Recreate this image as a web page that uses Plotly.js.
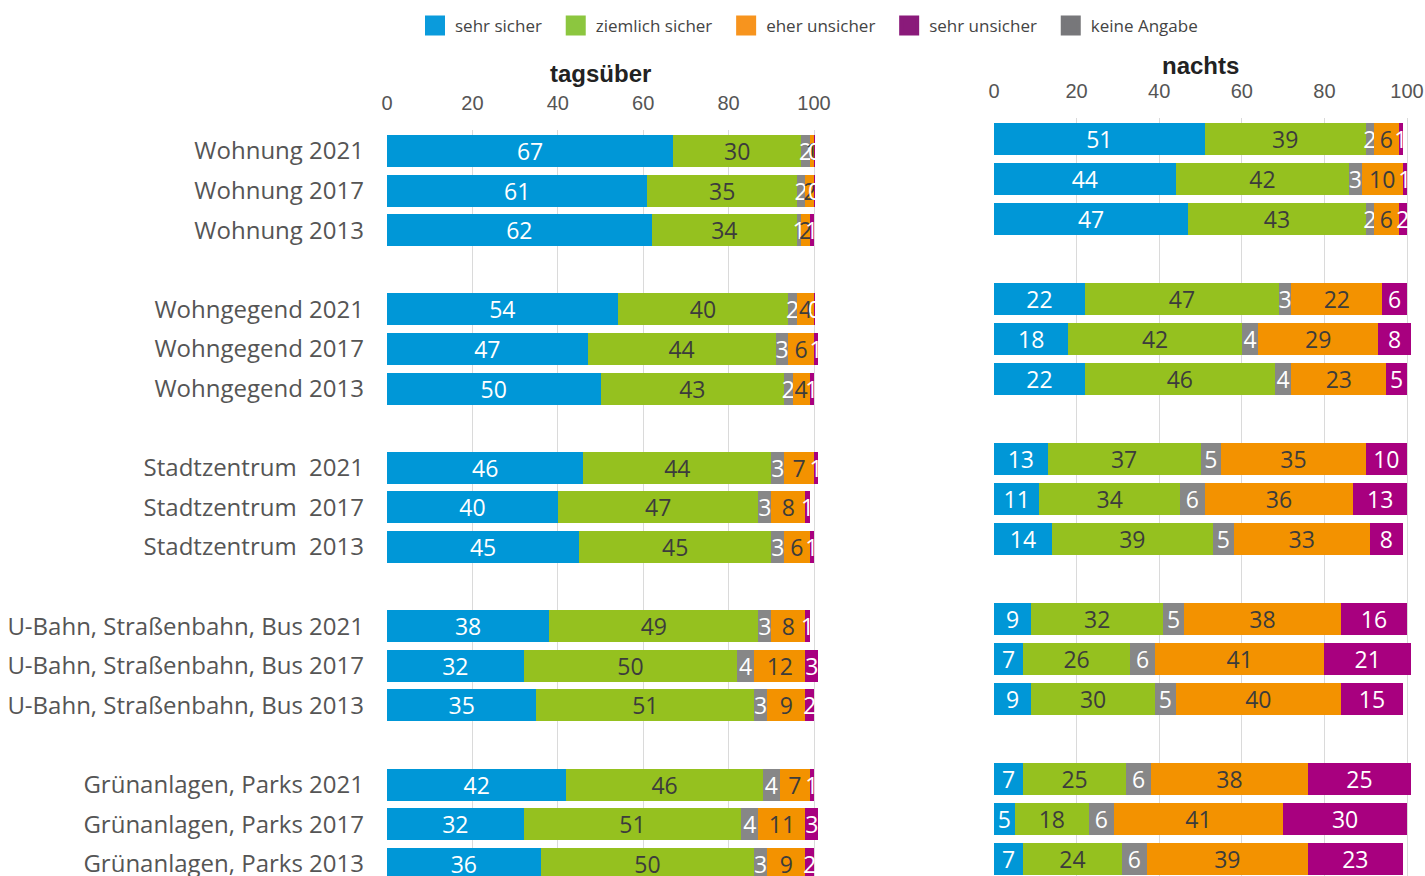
<!DOCTYPE html>
<html><head><meta charset="utf-8">
<script src="https://cdn.plot.ly/plotly-3.0.1.min.js"></script>
<style>html,body{margin:0;padding:0;background:#fff;overflow:hidden}#chart{width:1425px;height:876px}</style>
</head><body><div id="chart"></div>
<script>
const rowLabels = [
  "Wohnung 2021","Wohnung 2017","Wohnung 2013",
  "Wohngegend 2021","Wohngegend 2017","Wohngegend 2013",
  "Stadtzentrum\u00a0 2021","Stadtzentrum\u00a0 2017","Stadtzentrum\u00a0 2013",
  "U-Bahn, Straßenbahn, Bus 2021","U-Bahn, Straßenbahn, Bus 2017","U-Bahn, Straßenbahn, Bus 2013",
  "Grünanlagen, Parks 2021","Grünanlagen, Parks 2017","Grünanlagen, Parks 2013"
];
const seriesNames = ["sehr sicher","ziemlich sicher","eher unsicher","sehr unsicher","keine Angabe"];

// tagsüber
const daySehrSicher     = [67,61,62,54,47,50,46,40,45,38,32,35,42,32,36];
const dayZiemlichSicher = [30,35,34,40,44,43,44,47,45,49,50,51,46,51,50];
const dayKeineAngabe    = [2,2,1,2,3,2,3,3,3,3,4,3,4,4,3];
const dayEherUnsicher   = [1,2,2,4,6,4,7,8,6,8,12,9,7,11,9];
const daySehrUnsicher   = [0.3,0.3,1,0.3,1,1,1,1,1,1,3,2,1,3,2];

// nachts
const nightSehrSicher     = [51,44,47,22,18,22,13,11,14,9,7,9,7,5,7];
const nightZiemlichSicher = [39,42,43,47,42,46,37,34,39,32,26,30,25,18,24];
const nightKeineAngabe    = [2,3,2,3,4,4,5,6,5,5,6,5,6,6,6];
const nightEherUnsicher   = [6,10,6,22,29,23,35,36,33,38,41,40,38,41,39];
const nightSehrUnsicher   = [1,1,2,6,8,5,10,13,8,16,21,15,25,30,23];

const tickValues = [0,20,40,60,80,100];

// build category list with spacer rows between groups of 3
const categories = [];
const rowIndex = [];
let sp = 0;
rowLabels.forEach((l,i)=>{
  if (i>0 && i%3===0){ sp++; categories.push(" ".repeat(sp)); rowIndex.push(-1); }
  categories.push(l); rowIndex.push(i);
});
function expand(arr){ return rowIndex.map(i => i<0 ? null : arr[i]); }

const barColors = {ss:'#0097d7', zs:'#95c11f', ka:'#878787', eu:'#f39200', su:'#a8007f'};
const textColors = {ss:'#ffffff', zs:'#3c3c3c', ka:'#ffffff', eu:'#3c3c3c', su:'#ffffff'};

function barTrace(vals, key, xa, ya){
  return {
    type:'bar', orientation:'h', y:categories, x:expand(vals), texttemplate:'%{x:.0f}',
    xaxis:xa, yaxis:ya, showlegend:false, hoverinfo:'skip',
    marker:{color:barColors[key], line:{width:0}},
    textposition:'inside', insidetextanchor:'middle', textangle:0, constraintext:'none',
    textfont:{family:'Open Sans', size:23, color:textColors[key]},
    cliponaxis:false
  };
}
const traces = [];
[['x','y',[daySehrSicher,dayZiemlichSicher,dayKeineAngabe,dayEherUnsicher,daySehrUnsicher]],
 ['x2','y2',[nightSehrSicher,nightZiemlichSicher,nightKeineAngabe,nightEherUnsicher,nightSehrUnsicher]]]
 .forEach(([xa,ya,s])=>{
  ['ss','zs','ka','eu','su'].forEach((k,j)=>traces.push(barTrace(s[j],k,xa,ya)));
 });

const legendColors = ['#0a9bdc','#8cc63f','#f7941e','#8a1a7a','#77777a'];
seriesNames.forEach((n,i)=>{
  traces.push({type:'scatter', mode:'markers', x:[null], y:[null], xaxis:'x', yaxis:'y', name:n + '\u00a0\u00a0',
    hoverinfo:'skip', marker:{symbol:'square', size:16, color:legendColors[i], line:{color:legendColors[i], width:4}}});
});

const H = 876, XMAX = 101.5;
const axX = {range:[0,XMAX], side:'top', tickvals:tickValues, ticktext:tickValues.map(String),
  showgrid:true, gridcolor:'#dadada', gridwidth:1, zeroline:false, showline:false, ticks:'',
  tickfont:{family:'Liberation Sans', size:20, color:'#555'}, ticklabelstandoff:15, fixedrange:true};
const layout = {
  width:1425, height:876, paper_bgcolor:'#fff', plot_bgcolor:'rgba(0,0,0,0)',
  margin:{l:0,r:0,t:0,b:0}, barmode:'stack', bargap:0.19,
  showlegend:true,
  legend:{orientation:'h', x:415/1425, xanchor:'left', y:1-8/H, yanchor:'top',
    font:{family:'Open Sans', size:17, color:'#444'}, bgcolor:'rgba(0,0,0,0)', traceorder:'normal'},
  xaxis:Object.assign({}, axX, {domain:[387/1425, (387+427*XMAX/100)/1425], anchor:'y'}),
  xaxis2:Object.assign({}, axX, {domain:[994/1425, (994+413*XMAX/100)/1425], anchor:'y2'}),
  yaxis:{domain:[0, 1-130/H], anchor:'x', type:'category', categoryorder:'array', categoryarray:categories,
    range:[18.308,-0.530], showgrid:false, zeroline:false, ticks:'', ticklabelstandoff:22,
    tickfont:{family:'Open Sans', size:24, color:'#555'}, fixedrange:true},
  yaxis2:{domain:[0, 1-118/H], anchor:'x2', type:'category', categoryorder:'array', categoryarray:categories,
    range:[18.425,-0.525], showgrid:false, zeroline:false, ticks:'', showticklabels:false, fixedrange:true},
  annotations:[
    {text:'<b>tagsüber</b>', xref:'paper', x:600/1425, xanchor:'center', yref:'paper', y:1-74/H, yanchor:'middle', showarrow:false,
     font:{family:'Liberation Sans', size:24, color:'#222'}},
    {text:'<b>nachts</b>', xref:'paper', x:1200/1425, xanchor:'center', yref:'paper', y:1-65/H, yanchor:'middle', showarrow:false,
     font:{family:'Liberation Sans', size:24, color:'#222'}}
  ]
};
Plotly.newPlot('chart', traces, layout, {displayModeBar:false, staticPlot:true});
</script></body></html>
